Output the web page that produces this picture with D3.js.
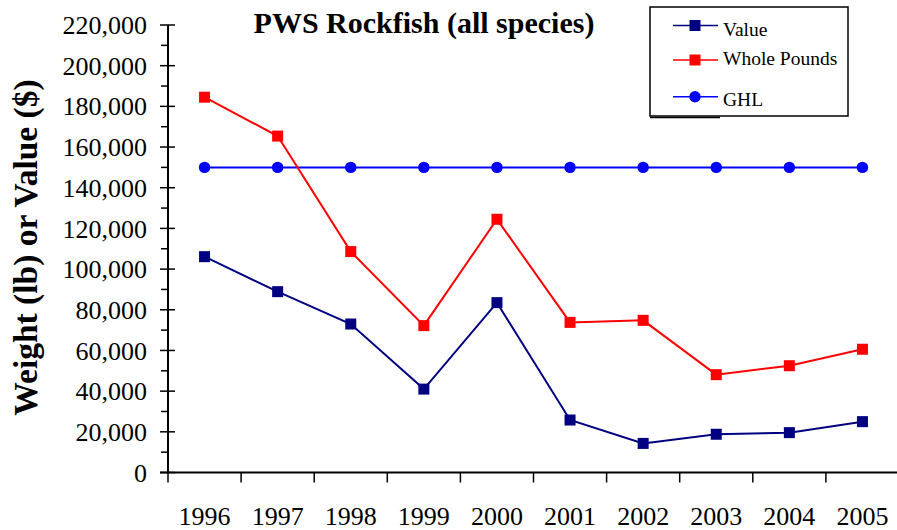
<!DOCTYPE html>
<html>
<head>
<meta charset="utf-8">
<script src="https://cdn.jsdelivr.net/npm/d3@7"></script>
<style>
  html, body { margin: 0; padding: 0; background: #fff; }
  svg { display: block; }
  text { font-family: "Liberation Serif", "Times New Roman", serif; }
</style>
</head>
<body>
<svg id="chart" width="897" height="530" font-family="Liberation Serif, Times New Roman, serif"></svg>
<script>
// ---- data ----
const years = ["1996", "1997", "1998", "1999", "2000", "2001", "2002", "2003", "2004", "2005"];
const valueSeries = [106100, 88900, 73000, 41000, 83500, 25800, 14300, 18800, 19600, 25000];
const wholePounds = [184500, 165400, 108600, 72200, 124500, 73800, 74800, 48100, 52500, 60600];
const ghl = [150000, 150000, 150000, 150000, 150000, 150000, 150000, 150000, 150000, 150000];
const yTicks = [0, 20000, 40000, 60000, 80000, 100000, 120000, 140000, 160000, 180000, 200000, 220000];
const seriesNames = ["Value", "Whole Pounds", "GHL"];

const svg = d3.select("#chart");
const x0 = 168, x1 = 899, yTop = 25, yBot = 472.5;

const x = d3.scaleBand().domain(years).range([x0, x1]);
const y = d3.scaleLinear().domain([0, 220000]).range([yBot, yTop]);
const xc = d => x(d) + x.bandwidth() / 2;

// Title
svg.append("text")
  .attr("x", 424).attr("y", 33)
  .attr("text-anchor", "middle")
  .attr("font-size", 30).attr("font-weight", "bold")
  .text("PWS Rockfish (all species)");

// Y axis title
svg.append("text")
  .attr("transform", "translate(37,247.5) rotate(-90)")
  .attr("text-anchor", "middle")
  .attr("font-size", 33.5).attr("font-weight", "bold")
  .text("Weight (lb) or Value ($)");

// Y axis (major ticks crossing, minor ticks left only)
const yAxisG = svg.append("g");
yAxisG.append("line")
  .attr("x1", x0).attr("x2", x0).attr("y1", yTop).attr("y2", yBot)
  .attr("stroke", "#000").attr("stroke-width", 2);
const minor = d3.range(10000, 220000, 20000);
yAxisG.selectAll(".minor").data(minor).join("line")
  .attr("x1", x0 - 7).attr("x2", x0)
  .attr("y1", d => y(d)).attr("y2", d => y(d))
  .attr("stroke", "#000").attr("stroke-width", 1.5);
yAxisG.selectAll(".major").data(yTicks).join("line")
  .attr("x1", x0 - 8).attr("x2", x0 + 7)
  .attr("y1", d => y(d)).attr("y2", d => y(d))
  .attr("stroke", "#000").attr("stroke-width", 1.5);
yAxisG.selectAll(".lbl").data(yTicks).join("text")
  .attr("x", 147).attr("y", d => y(d))
  .attr("dy", "0.35em")
  .attr("text-anchor", "end")
  .attr("font-size", 26)
  .text(d => d3.format(",")(d));

// X axis
const xAxisG = svg.append("g");
xAxisG.append("line")
  .attr("x1", x0 - 8).attr("x2", 897).attr("y1", yBot).attr("y2", yBot)
  .attr("stroke", "#000").attr("stroke-width", 2);
const bounds = years.map(d => x(d)).concat([x1]);
xAxisG.selectAll(".xt").data(bounds).join("line")
  .attr("x1", d => d).attr("x2", d => d)
  .attr("y1", yBot).attr("y2", yBot + 10)
  .attr("stroke", "#000").attr("stroke-width", 1.5);
xAxisG.selectAll(".xl").data(years).join("text")
  .attr("x", d => xc(d)).attr("y", 525)
  .attr("text-anchor", "middle")
  .attr("font-size", 26)
  .text(d => d);

// Lines
const line = d3.line().x((d, i) => xc(years[i])).y(d => y(d));
const series = [
  { name: seriesNames[0], data: valueSeries, color: "#000080", marker: "square" },
  { name: seriesNames[1], data: wholePounds, color: "#FF0000", marker: "square" },
  { name: seriesNames[2], data: ghl, color: "#0000FF", marker: "circle" }
];

series.slice().reverse().forEach(s => {
  svg.append("path")
    .attr("d", line(s.data))
    .attr("fill", "none").attr("stroke", s.color).attr("stroke-width", 2);
  const g = svg.append("g");
  if (s.marker === "square") {
    g.selectAll("rect").data(s.data).join("rect")
      .attr("x", (d, i) => xc(years[i]) - 5.5)
      .attr("y", d => y(d) - 5.5)
      .attr("width", 11).attr("height", 11)
      .attr("fill", s.color);
  } else {
    g.selectAll("circle").data(s.data).join("circle")
      .attr("cx", (d, i) => xc(years[i]))
      .attr("cy", d => y(d))
      .attr("r", 5.7)
      .attr("fill", s.color);
  }
});

// Legend
const leg = svg.append("g");
leg.append("rect")
  .attr("x", 650).attr("y", 7).attr("width", 198).attr("height", 109)
  .attr("fill", "#fff").attr("stroke", "#000").attr("stroke-width", 1.5);
leg.append("line")
  .attr("x1", 650).attr("x2", 720).attr("y1", 117.5).attr("y2", 117.5)
  .attr("stroke", "#000").attr("stroke-width", 1.5);
const rowsY = [25.5, 60, 96.7];
const textY = [36, 65, 106];
series.forEach((s, i) => {
  leg.append("line")
    .attr("x1", 673).attr("x2", 718).attr("y1", rowsY[i]).attr("y2", rowsY[i])
    .attr("stroke", s.color).attr("stroke-width", 1.5);
  if (s.marker === "square") {
    leg.append("rect")
      .attr("x", 695 - 5.5).attr("y", rowsY[i] - 5.5)
      .attr("width", 11).attr("height", 11).attr("fill", s.color);
  } else {
    leg.append("circle")
      .attr("cx", 695).attr("cy", rowsY[i]).attr("r", 5.7).attr("fill", s.color);
  }
  leg.append("text")
    .attr("x", 723).attr("y", textY[i])
    .attr("font-size", 19.5)
    .text(s.name);
});
</script>
</body>
</html>
